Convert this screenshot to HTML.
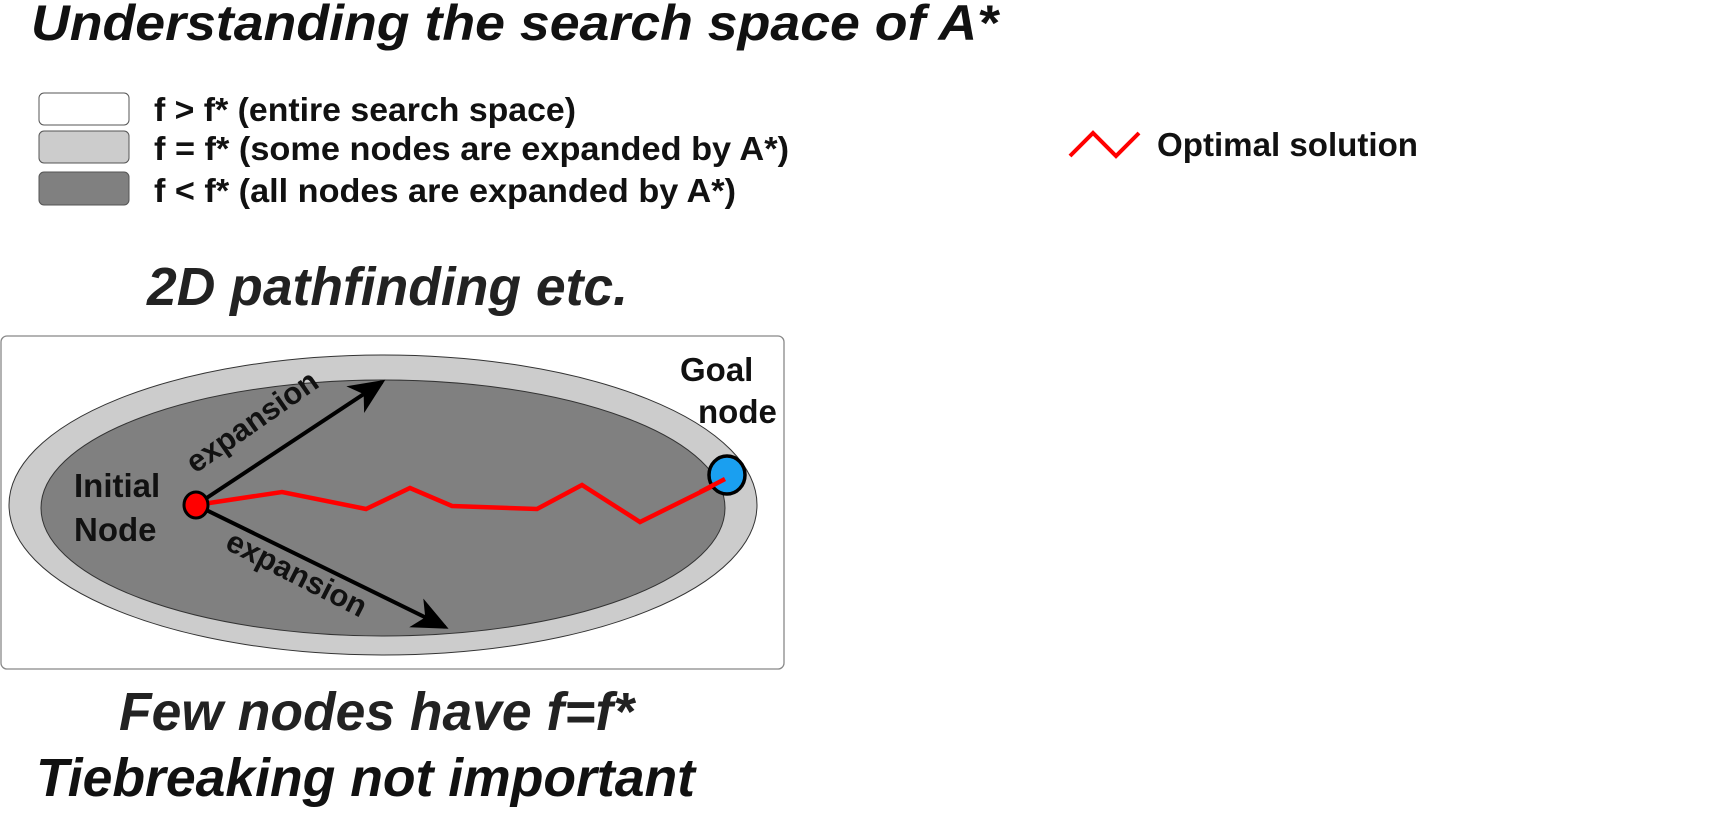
<!DOCTYPE html>
<html><head><meta charset="utf-8"><style>html,body{margin:0;padding:0;background:#fff;}svg{display:block}</style></head>
<body>
<svg width="1720" height="819" viewBox="0 0 1720 819" xmlns="http://www.w3.org/2000/svg" font-family="Liberation Sans, sans-serif">
<defs>
<marker id="ah" markerWidth="10" markerHeight="8" refX="8" refY="4" orient="auto" markerUnits="strokeWidth"><path d="M0,0 L9,4 L0,8 L2.5,4 Z" fill="#000"/></marker>
</defs>
<text x="31" y="40" font-size="50" font-weight="bold" font-style="italic" fill="#111" textLength="967" lengthAdjust="spacingAndGlyphs">Understanding the search space of A*</text>

<g>
<rect x="39" y="93" width="90" height="32" rx="5" fill="#fff" stroke="#555" stroke-width="1"/>
<text x="154" y="121" font-size="33" font-weight="bold" fill="#111" textLength="422" lengthAdjust="spacingAndGlyphs">f &gt; f*  (entire search space)</text>
<rect x="39" y="131" width="90" height="32" rx="5" fill="#ccc" stroke="#555" stroke-width="1"/>
<text x="154" y="160" font-size="33" font-weight="bold" fill="#111" textLength="635" lengthAdjust="spacingAndGlyphs">f = f*  (some nodes are expanded by A*)</text>
<rect x="39" y="172" width="90" height="33" rx="5" fill="#808080" stroke="#555" stroke-width="1"/>
<text x="154" y="202" font-size="33" font-weight="bold" fill="#111" textLength="582" lengthAdjust="spacingAndGlyphs">f &lt; f*  (all nodes are expanded by A*)</text>
<polyline points="1070,156 1093,133 1116,156 1139,133" fill="none" stroke="#f00" stroke-width="4"/>
<text x="1157" y="156" font-size="33" font-weight="bold" fill="#111" textLength="261" lengthAdjust="spacingAndGlyphs">Optimal solution</text>
</g>

<text x="147" y="305" font-size="54" font-weight="bold" font-style="italic" fill="#222" textLength="481" lengthAdjust="spacingAndGlyphs">2D pathfinding etc.</text>

<rect x="1" y="336" width="783" height="333" rx="6" fill="#fff" stroke="#888" stroke-width="1.3"/>
<ellipse cx="383" cy="505" rx="374" ry="150" fill="#ccc" stroke="#333" stroke-width="1"/>
<ellipse cx="383" cy="508" rx="342" ry="128" fill="#808080" stroke="#333" stroke-width="1"/>

<line x1="196" y1="505" x2="382" y2="382" stroke="#000" stroke-width="4" marker-end="url(#ah)"/>
<line x1="196" y1="505" x2="445" y2="627" stroke="#000" stroke-width="4" marker-end="url(#ah)"/>
<text transform="translate(258,430) rotate(-35)" text-anchor="middle" font-size="31" font-weight="bold" fill="#111">expansion</text>
<text transform="translate(292,583) rotate(27)" text-anchor="middle" font-size="31" font-weight="bold" fill="#111">expansion</text>

<polyline points="196,505 282,492 366,509 410,488 452,506 537,509 582,485 640,522 723,481" fill="none" stroke="#f00" stroke-width="4.5" stroke-linejoin="miter"/>
<ellipse cx="196" cy="505" rx="12" ry="13" fill="#f00" stroke="#000" stroke-width="3"/>
<ellipse cx="727" cy="475" rx="18" ry="19" fill="#1a9ff0" stroke="#000" stroke-width="3.5"/>
<line x1="700" y1="492" x2="725" y2="479" stroke="#f00" stroke-width="4.5"/>

<text font-size="33" font-weight="bold" fill="#111"><tspan x="74" y="497">Initial</tspan><tspan x="74" y="541">Node</tspan></text>
<text font-size="33" font-weight="bold" fill="#111"><tspan x="680" y="381">Goal</tspan><tspan x="698" y="423">node</tspan></text>

<text x="119" y="730" font-size="54" font-weight="bold" font-style="italic" fill="#222" textLength="515" lengthAdjust="spacingAndGlyphs">Few nodes have f=f*</text>
<text x="36" y="796" font-size="54" font-weight="bold" font-style="italic" fill="#111" textLength="659" lengthAdjust="spacingAndGlyphs">Tiebreaking not important</text>
</svg>
</body></html>
